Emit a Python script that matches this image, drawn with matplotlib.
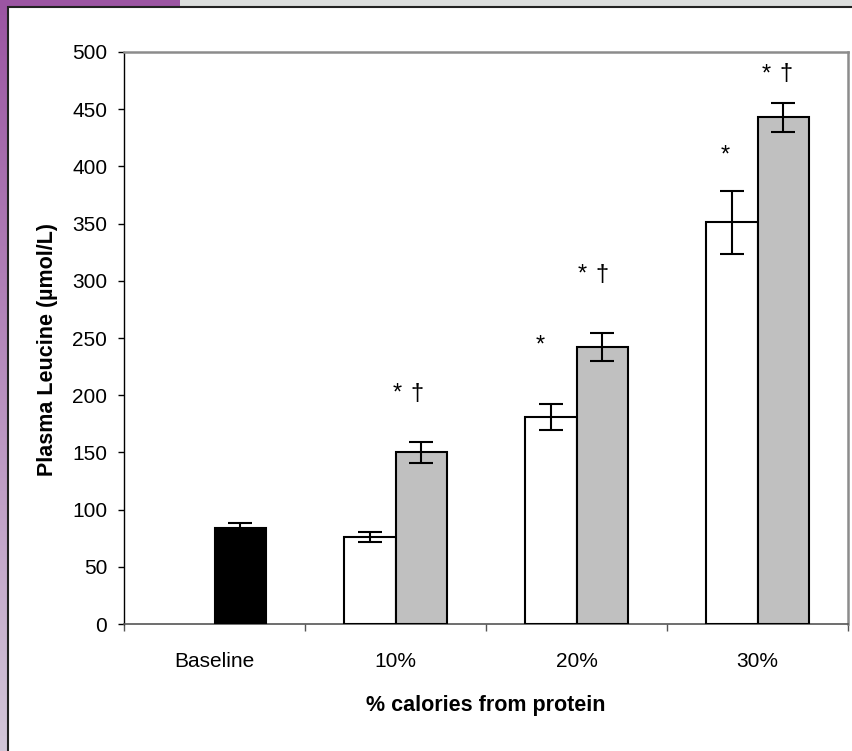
import numpy as np
import matplotlib
matplotlib.use("Agg")
import matplotlib.pyplot as plt
from matplotlib.patches import Rectangle

plt.rcParams['font.family'] = ['Liberation Sans', 'DejaVu Sans']

# données
categories = ["Baseline", "10%", "20%", "30%"]
baseline_value = 84
baseline_err = 4
white_values = [76, 181, 351]       # barres blanches (10%, 20%, 30%)
white_err = [4, 11, 27.5]
gray_values = [150, 242, 443]       # barres grises
gray_err = [9, 12, 12.5]

# annotations de significativité : (catégorie, décalage, haut du symbole, texte)
marks = [
    (1, 0.01, 211, "*"), (1, 0.12, 211, "†"),
    (2, -0.20, 252.6, "*"),
    (2, 0.03, 315, "*"), (2, 0.14, 315, "†"),
    (3, -0.18, 418.7, "*"),
    (3, 0.05, 490, "*"), (3, 0.155, 490, "†"),
]

W, H = 852, 751
fig = plt.figure(figsize=(W / 100, H / 100), dpi=100, facecolor="#dcdedd")

# fond : bande violette à gauche et en haut, panneau blanc
bg = fig.add_axes([0, 0, 10 / W, 1])
grad = np.linspace(0, 1, 256)[:, None]
top_c = np.array([0x9b, 0x55, 0xa2]) / 255
bot_c = np.array([0xd2, 0xc6, 0xd8]) / 255
img = top_c[None, None, :] * (1 - grad[:, :, None]) + bot_c[None, None, :] * grad[:, :, None]
bg.imshow(img, aspect="auto", extent=[0, 1, 0, 1])
bg.axis("off")
fig.patches.append(Rectangle((0, 1 - 8 / H), 180 / W, 8 / H, transform=fig.transFigure,
                             facecolor="#9b55a2", edgecolor="none", zorder=0))
fig.patches.append(Rectangle((8 / W, -0.05), 1.1, 1 - 7.5 / H + 0.05, transform=fig.transFigure,
                             facecolor="white", edgecolor="#222222", linewidth=1.5, zorder=1))

ax = fig.add_axes([124 / W, 1 - 624 / H, 724 / W, 572 / H])
ax.set_zorder(2)
ax.set_facecolor("white")

width = 0.287
x = np.arange(len(categories))
xs = x[1:]

err_kw = dict(ecolor="black", elinewidth=1.5, capsize=8.5, capthick=1.5)
ax.bar(x[0] + width / 2, baseline_value, width, color="black", edgecolor="black",
       linewidth=1.5, yerr=baseline_err, error_kw=err_kw, zorder=3)
ax.bar(xs - width / 2, white_values, width, color="white", edgecolor="black",
       linewidth=1.5, yerr=white_err, error_kw=err_kw, zorder=3)
ax.bar(xs + width / 2, gray_values, width, color="#c0c0c0", edgecolor="black",
       linewidth=1.5, yerr=gray_err, error_kw=err_kw, zorder=3)

for cat, dx, ytop, txt in marks:
    ax.text(cat + dx, ytop, txt, ha="center", va="top", fontsize=17, zorder=4)

ax.set_xlim(-0.5, len(categories) - 0.5)
ax.set_ylim(0, 500)
ax.set_yticks(range(0, 501, 50))
ax.tick_params(axis="y", direction="out", length=4, width=1, pad=8, labelsize=15)

ax.set_xticks(np.arange(-0.5, len(categories), 1))
ax.set_xticklabels([])
ax.set_xticks(x, minor=True)
ax.set_xticklabels(categories, minor=True)
ax.tick_params(axis="x", which="major", direction="out", length=5, width=1, color="#555555")
ax.tick_params(axis="x", which="minor", length=0, pad=20, labelsize=15)

ax.spines["left"].set_color("black")
ax.spines["left"].set_linewidth(1)
ax.spines["bottom"].set_color("#555555")
ax.spines["bottom"].set_linewidth(1.2)
ax.spines["top"].set_color("#8c8c8c")
ax.spines["top"].set_linewidth(1.8)
ax.spines["right"].set_color("#8c8c8c")
ax.spines["right"].set_linewidth(1.8)

fig.text(48 / W, 1 - 349 / H, "Plasma Leucine (µmol/L)", rotation=90, ha="center",
         va="center", fontsize=15.5, fontweight="bold", zorder=5)
fig.text(486 / W, 1 - 706 / H, "% calories from protein", ha="center", va="center",
         fontsize=15.5, fontweight="bold", zorder=5)

fig.savefig("out.png", dpi=100)
